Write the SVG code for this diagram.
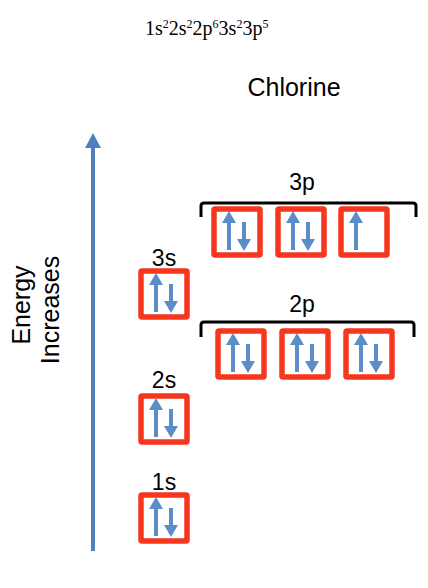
<svg xmlns="http://www.w3.org/2000/svg" xmlns:xlink="http://www.w3.org/1999/xlink" width="428" height="588" viewBox="0 0 428 588">
<style>
.box{fill:none;stroke:#F4371E;stroke-width:5.5;}
.arr{stroke:#5B8DC8;stroke-width:4;fill:none;}
.head{fill:#5B8DC8;}
.brk{fill:none;stroke:#000;stroke-width:3;stroke-linejoin:round;}
.lbl{font-family:"Liberation Sans",Arial,sans-serif;font-size:23px;fill:#000;text-anchor:middle;}
.big{font-family:"Liberation Sans",Arial,sans-serif;font-size:25px;fill:#000;text-anchor:middle;}
.formula{font-family:"Liberation Serif","Times New Roman",serif;font-size:20px;fill:#000;}
</style>
<defs>
<g id="boxPair">
<rect class="box" x="-23" y="-23" width="46" height="46" rx="1"/>
<path class="arr" d="M-8,18 V-10"/>
<polygon class="head" points="-8,-21 -15,-9 -1,-9"/>
<path class="arr" d="M7,-10 V8"/>
<polygon class="head" points="7,19 0,7 14,7"/>
</g>
<g id="boxSingle">
<rect class="box" x="-23" y="-23" width="46" height="46" rx="1"/>
<path class="arr" d="M-8,18 V-10"/>
<polygon class="head" points="-8,-21 -15,-9 -1,-9"/>
</g>
</defs>

<g id="formula">
<text class="formula" x="145" y="35">1s<tspan dy="-7" font-size="12">2</tspan><tspan dy="7">2s</tspan><tspan dy="-7" font-size="12">2</tspan><tspan dy="7">2p</tspan><tspan dy="-7" font-size="12">6</tspan><tspan dy="7">3s</tspan><tspan dy="-7" font-size="12">2</tspan><tspan dy="7">3p</tspan><tspan dy="-7" font-size="12">5</tspan></text>
</g>

<g id="title">
<text class="big" x="294" y="96" font-size="28">Chlorine</text>
</g>

<g id="energy-label">
<text class="big" transform="translate(30,305) rotate(-90)">Energy</text>
<text class="big" transform="translate(59,310) rotate(-90)">Increases</text>
</g>

<g id="connectors">
<line x1="93" y1="551" x2="93" y2="144" stroke="#4F81BD" stroke-width="4"/>
<polygon points="93,133 85,148 101,148" fill="#4F81BD"/>
</g>

<g id="orbital-1s">
<text class="lbl" x="164" y="490">1s</text>
<use xlink:href="#boxPair" x="164" y="518"/>
</g>

<g id="orbital-2s">
<text class="lbl" x="164" y="388">2s</text>
<use xlink:href="#boxPair" x="164" y="419"/>
</g>

<g id="orbital-3s">
<text class="lbl" x="164" y="266">3s</text>
<use xlink:href="#boxPair" x="164" y="294"/>
</g>

<g id="orbital-2p">
<text class="lbl" x="302" y="312">2p</text>
<path class="brk" d="M201,337 V325 Q201,322 204,322 H411 Q414,322 414,325 V337"/>
<use xlink:href="#boxPair" x="241" y="354"/>
<use xlink:href="#boxPair" x="305" y="354"/>
<use xlink:href="#boxPair" x="369" y="354"/>
</g>

<g id="orbital-3p">
<text class="lbl" x="302" y="190">3p</text>
<path class="brk" d="M201,217 V206 Q201,203 204,203 H413 Q416,203 416,206 V217"/>
<use xlink:href="#boxPair" x="237" y="232"/>
<use xlink:href="#boxPair" x="301" y="232"/>
<use xlink:href="#boxSingle" x="364" y="232"/>
</g>
</svg>
